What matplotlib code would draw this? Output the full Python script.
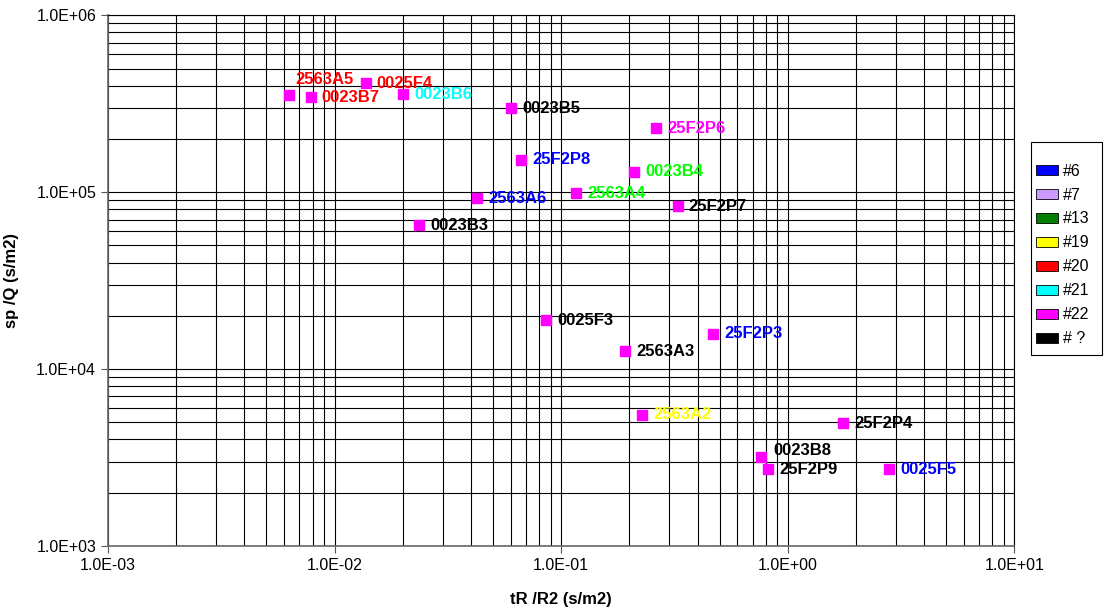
import numpy as np
import matplotlib
matplotlib.use("Agg")
import matplotlib.pyplot as plt
from matplotlib.patches import Patch, Rectangle
from matplotlib.ticker import FuncFormatter, LogLocator, NullFormatter

plt.rcParams['font.family'] = ['Liberation Sans', 'DejaVu Sans']

# --- data ---
names = ['2563A5', '0023B7', '0025F4', '0023B6', '0023B5', '25F2P6', '25F2P8',
         '0023B4', '2563A4', '2563A6', '25F2P7', '0023B3', '0025F3', '2563A3',
         '25F2P3', '2563A2', '25F2P4', '0023B8', '25F2P9', '0025F5']
tr_r2 = [6.27e-3, 7.84e-3, 1.37e-2, 2.0e-2, 6.0e-2, 0.262, 0.0666,
         0.21, 0.116, 0.0427, 0.327, 0.0237, 0.0859, 0.191,
         0.468, 0.227, 1.75, 0.76, 0.817, 2.81]
sp_q = [3.53e5, 3.44e5, 4.13e5, 3.58e5, 2.98e5, 2.30e5, 1.52e5,
        1.30e5, 9.87e4, 9.25e4, 8.34e4, 6.5e4, 1.89e4, 1.26e4,
        1.58e4, 5.5e3, 4.95e3, 3.18e3, 2.72e3, 2.72e3]
groups = ['#20', '#20', '#20', '#21', '# ?', '#22', '#6',
          'lime', 'lime', '#6', '# ?', '# ?', '# ?', '# ?',
          '#6', '#19', '# ?', '# ?', '# ?', '#6']

legend_labels = ['#6', '#7', '#13', '#19', '#20', '#21', '#22', '# ?']
legend_colors = ['#0000FF', '#CC99FF', '#008000', '#FFFF00', '#FF0000',
                 '#00FFFF', '#FF00FF', '#000000']

label_colors = dict(zip(legend_labels, legend_colors))
label_colors['lime'] = '#00FF00'

# labels not sitting right of their marker (offset in points)
special_offsets = {'2563A5': (5, 11), '0023B8': (9, 5)}

fig = plt.figure(figsize=(11.04, 6.10), dpi=100)
ax = fig.add_axes([0.0978, 0.105, 0.821, 0.870])

ax.set_xscale('log')
ax.set_yscale('log')
ax.set_xlim(1e-3, 1e1)
ax.set_ylim(1e3, 1e6)

ax.xaxis.set_major_locator(LogLocator(base=10, numticks=10))
ax.yaxis.set_major_locator(LogLocator(base=10, numticks=10))
ax.xaxis.set_minor_locator(LogLocator(base=10, subs=np.arange(2, 10), numticks=20))
ax.yaxis.set_minor_locator(LogLocator(base=10, subs=np.arange(2, 10), numticks=20))
ax.xaxis.set_minor_formatter(NullFormatter())
ax.yaxis.set_minor_formatter(NullFormatter())
fmt = FuncFormatter(lambda v, pos: f"{v:.1E}")
ax.xaxis.set_major_formatter(fmt)
ax.yaxis.set_major_formatter(fmt)

ax.grid(True, which='both', color='black', linewidth=0.8)
ax.set_axisbelow(True)
ax.tick_params(which='major', direction='out', length=5, labelsize=11.5, color='#555555')
ax.tick_params(which='minor', length=0)
for s in ['left', 'bottom']:
    ax.spines[s].set_color('#666666')
    ax.spines[s].set_linewidth(1.2)
for s in ['top', 'right']:
    ax.spines[s].set_color('black')
    ax.spines[s].set_linewidth(0.8)

ax.plot(tr_r2, sp_q, linestyle='none', marker='s', markersize=7.5,
        color='#FF00FF', markeredgecolor='#FF00FF', zorder=3)

for n, xv, yv, g in zip(names, tr_r2, sp_q, groups):
    off = special_offsets.get(n, (8, 0))
    ax.annotate(n, (xv, yv), xytext=off, textcoords='offset points',
                ha='left', va='center', fontsize=12, fontweight='bold',
                color=label_colors[g], zorder=4)

ax.set_xlabel('tR /R2 (s/m2)', fontsize=12, fontweight='bold', labelpad=14)
ax.set_ylabel('sp /Q (s/m2)', fontsize=12, fontweight='bold', labelpad=12)

# legend box drawn by hand (reference has tall top/bottom padding, narrow sides)
fig.patches.append(Rectangle((1031 / 1104, 1 - 355 / 610), 71 / 1104, 213 / 610,
                             transform=fig.transFigure, facecolor='white',
                             edgecolor='black', linewidth=0.8, zorder=1))
handles = [Patch(facecolor=c, edgecolor='black', linewidth=0.6) for c in legend_colors]
leg = fig.legend(handles, legend_labels, loc='upper left',
                 bbox_to_anchor=(1034 / 1104, 1 - 162 / 610), frameon=False,
                 fontsize=11.5, handlelength=1.4, handleheight=0.6,
                 labelspacing=0.56, handletextpad=0.3, borderpad=0.1,
                 borderaxespad=0)
leg.set_zorder(2)

fig.savefig('out.png', dpi=100)
